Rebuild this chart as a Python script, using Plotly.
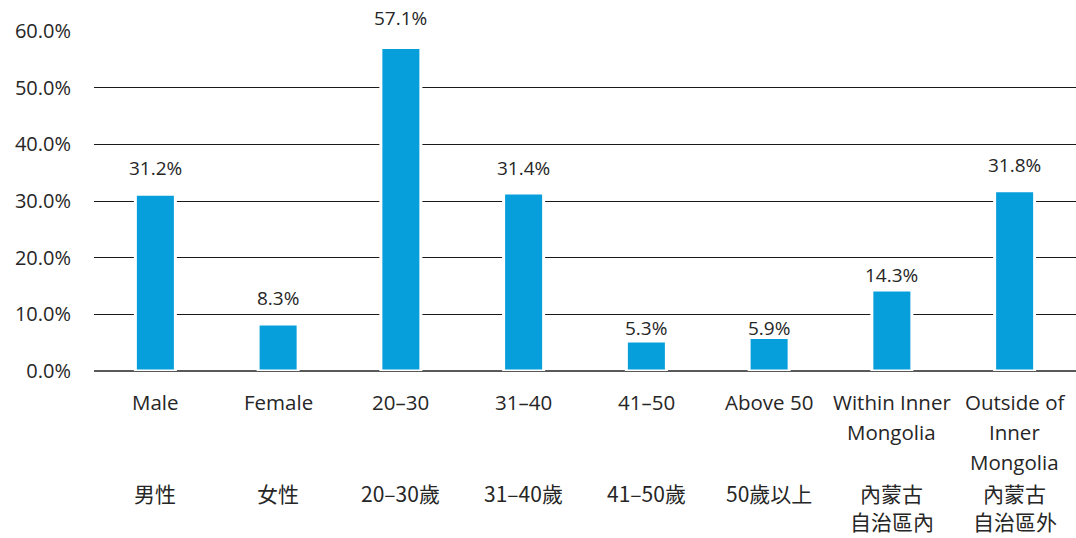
import plotly.graph_objects as go

categories = [["Male"], ["Female"], ["20–30"], ["31–40"], ["41–50"], ["Above 50"],
              ["Within Inner", "Mongolia"], ["Outside of", "Inner", "Mongolia"]]
categories_zh = [["男性"], ["女性"], ["20–30歲"], ["31–40歲"], ["41–50歲"], ["50歲以上"],
                 ["內蒙古", "自治區內"], ["內蒙古", "自治區外"]]
values = [31.2, 8.3, 57.1, 31.4, 5.3, 5.9, 14.3, 31.8]
y_ticks = [0, 10, 20, 30, 40, 50, 60]

# pixel lift of each value label above its bar (labels kept clear of gridlines)
label_lift = [11, 11, 14, 10, -2, -5, 0, 11]

FONT = "'Open Sans', 'Noto Sans CJK TC', sans-serif"
FONT_ZH = "'Noto Sans CJK TC', 'Open Sans', sans-serif"
TEXT = "#262626"

x = list(range(len(values)))

fig = go.Figure(go.Bar(
    x=x,
    y=values,
    marker=dict(color="#069edb", line=dict(width=3, color="white")),
    width=0.326,
    cliponaxis=False,
    hoverinfo="skip",
))

# value labels above each bar
for i, v, lift in zip(x, values, label_lift):
    fig.add_annotation(x=i, y=v, xref="x", yref="y", text=f"{v:.1f}%",
                       showarrow=False, yanchor="bottom", yshift=lift,
                       font=dict(family=FONT, size=19, color=TEXT))

# two-language category labels below the axis, one annotation per line
for i, (en_lines, zh_lines) in enumerate(zip(categories, categories_zh)):
    for k, line in enumerate(en_lines):
        fig.add_annotation(x=i, y=0, xref="x", yref="paper", text=line,
                           showarrow=False, yanchor="middle", borderpad=0,
                           yshift=-(31 + 30 * k),
                           font=dict(family=FONT, size=20.5, color=TEXT))
    for k, line in enumerate(zh_lines):
        fig.add_annotation(x=i, y=0, xref="x", yref="paper", text=line,
                           showarrow=False, yanchor="middle", borderpad=0,
                           yshift=-(122 + 28 * k),
                           font=dict(family=FONT_ZH, size=21, color=TEXT))

fig.update_layout(
    width=1076, height=538,
    margin=dict(l=94, r=0, t=31, b=167),
    plot_bgcolor="white", paper_bgcolor="white",
    showlegend=False,
    xaxis=dict(range=[-0.5, len(values) - 0.5], showticklabels=False,
               showgrid=False, zeroline=False, showline=False),
    yaxis=dict(range=[0, 60], tickvals=y_ticks,
               ticktext=[f"{t:.1f}%" for t in y_ticks],
               tickfont=dict(family=FONT, size=20, color=TEXT),
               ticklabelstandoff=22,
               showgrid=True, gridcolor="#1a1a1a", gridwidth=1,
               zeroline=True, zerolinecolor="#595959", zerolinewidth=2,
               showline=False),
)

fig.write_html("out.html")
